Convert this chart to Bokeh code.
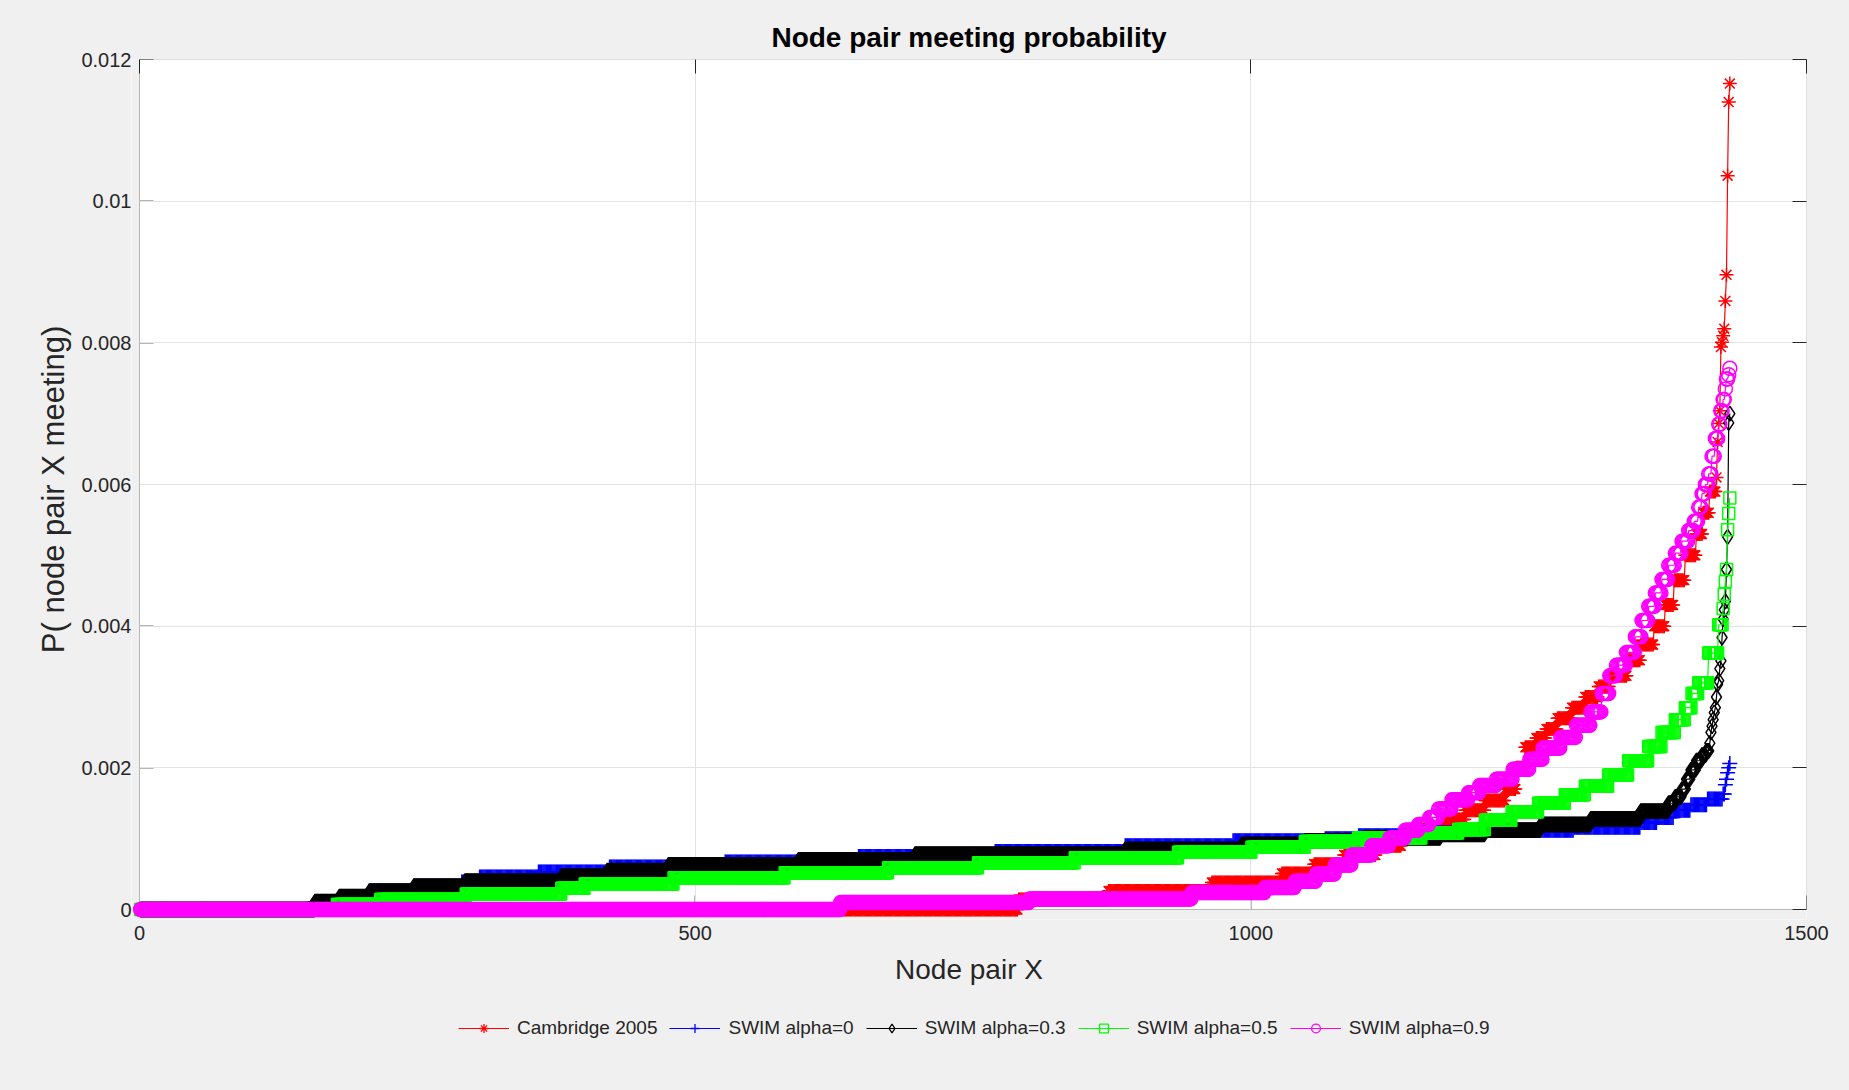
import numpy as np
from bokeh.plotting import figure
from bokeh.layouts import column
from bokeh.models import (Range1d, FixedTicker, LinearAxis, Legend, LegendItem,
                          BoxAnnotation)
from bokeh.embed import file_html
from bokeh.resources import INLINE

# Number of node pairs (54 nodes -> 1431 pairs), sorted by meeting probability
N_PAIRS = 1431

# Each series: probability levels and the index of the last pair at that level
cam_levels = [0, 0.00014, 0.00026, 0.00038, 0.00051, 0.00064, 0.00077, 0.00090,
              0.00102, 0.00115, 0.00127, 0.00140, 0.00154, 0.00170, 0.00200,
              0.00229, 0.00242, 0.00255, 0.00270, 0.00285, 0.00300, 0.00315,
              0.00330, 0.00352, 0.00374, 0.00400, 0.00430, 0.00465, 0.00500,
              0.00530, 0.00560, 0.00590, 0.00610, 0.00660, 0.00686, 0.00704,
              0.00794, 0.00801, 0.00810, 0.00820, 0.00859, 0.00896, 0.01036,
              0.01140, 0.01166]
cam_ends = [790, 871, 964, 1027, 1056, 1083, 1112, 1135, 1155, 1172, 1192, 1210,
            1228, 1238, 1246, 1256, 1265, 1275, 1288, 1300, 1312, 1322, 1338,
            1350, 1362, 1372, 1380, 1390, 1400, 1406, 1412, 1418, 1419, 1420,
            1421, 1422, 1423, 1424, 1425, 1426, 1427, 1428, 1429, 1430, 1431]

a0_levels = [0, 0.00011, 0.00018, 0.00026, 0.00033, 0.00039, 0.00046, 0.00053,
             0.00060, 0.00067, 0.00075, 0.00082, 0.00090, 0.00097, 0.00100,
             0.00104, 0.00108, 0.00112, 0.00116, 0.00123, 0.00130, 0.00140,
             0.00148, 0.00156, 0.00163, 0.00176, 0.00184, 0.00193, 0.00200,
             0.00206]
a0_ends = [157, 179, 206, 246, 289, 305, 358, 422, 526, 646, 769, 886, 983, 1066,
           1096, 1140, 1200, 1290, 1350, 1365, 1380, 1395, 1410, 1424, 1426,
           1427, 1428, 1429, 1430, 1431]

a3_levels = [0, 0.00011, 0.00018, 0.00026, 0.00033, 0.00040, 0.00047, 0.00055,
             0.00063, 0.00070, 0.00078, 0.00085, 0.00092, 0.00097, 0.00101,
             0.00106, 0.00112, 0.00120, 0.00128, 0.00139, 0.00150, 0.00159,
             0.00170, 0.00184, 0.00197, 0.00210, 0.00218, 0.00224, 0.00235,
             0.00250, 0.00259, 0.00268, 0.00278, 0.00285, 0.00300, 0.00318,
             0.00323, 0.00340, 0.00351, 0.00384, 0.00410, 0.00423, 0.00435,
             0.00480, 0.00526, 0.00687, 0.00700]
a3_ends = [157, 179, 206, 246, 292, 379, 420, 475, 592, 697, 886, 991, 1048,
           1100, 1170, 1210, 1260, 1305, 1350, 1375, 1381, 1387, 1391, 1395,
           1400, 1405, 1409, 1412, 1413, 1414, 1415, 1416, 1417, 1418, 1419,
           1420, 1421, 1422, 1423, 1424, 1425, 1426, 1427, 1428, 1429, 1430,
           1431]

a5_levels = [0, 0.00007, 0.00014, 0.00022, 0.00030, 0.00036, 0.00045, 0.00052,
             0.00059, 0.00066, 0.00073, 0.00081, 0.00088, 0.00096, 0.00101,
             0.00108, 0.00113, 0.00126, 0.00138, 0.00150, 0.00162, 0.00174,
             0.00190, 0.00210, 0.00230, 0.00250, 0.00268, 0.00285, 0.00305,
             0.00320, 0.00362, 0.00402, 0.00425, 0.00445, 0.00463, 0.00480,
             0.00536, 0.00559, 0.00581]
a5_ends = [177, 216, 293, 379, 400, 480, 580, 673, 754, 841, 934, 1000, 1048,
           1096, 1153, 1186, 1210, 1234, 1258, 1282, 1300, 1321, 1339, 1357,
           1369, 1381, 1390, 1396, 1402, 1411, 1420, 1424, 1425, 1426, 1427,
           1428, 1429, 1430, 1431]

a9_levels = [0, 0.00010, 0.00015, 0.00024, 0.00031, 0.00040, 0.00050, 0.00063,
             0.00077, 0.00090, 0.00101, 0.00112, 0.00120, 0.00130, 0.00142,
             0.00155, 0.00165, 0.00175, 0.00184, 0.00198, 0.00212, 0.00228,
             0.00243, 0.00260, 0.00279, 0.00305, 0.00330, 0.00345, 0.00363,
             0.00385, 0.00408, 0.00428, 0.00447, 0.00466, 0.00486, 0.00503,
             0.00520, 0.00535, 0.00548, 0.00568, 0.00587, 0.00600, 0.00615,
             0.00640, 0.00665, 0.00685, 0.00704, 0.00720, 0.00735, 0.00749,
             0.00755, 0.00764]
a9_ends = [630, 800, 946, 1012, 1039, 1058, 1075, 1090, 1108, 1124, 1138, 1150,
           1160, 1168, 1180, 1195, 1205, 1220, 1235, 1250, 1262, 1278, 1292,
           1305, 1315, 1322, 1328, 1337, 1345, 1351, 1357, 1363, 1369, 1375,
           1381, 1387, 1393, 1398, 1402, 1405, 1408, 1411, 1414, 1417, 1420,
           1422, 1424, 1426, 1427, 1429, 1430, 1431]

labels = ["Cambridge 2005", "SWIM alpha=0", "SWIM alpha=0.3",
          "SWIM alpha=0.5", "SWIM alpha=0.9"]
colors = ["#ff0000", "#0000ff", "#000000", "#00ff00", "#ff00ff"]
markers = ["asterisk", "cross", "diamond", "square", "circle"]
marker_sizes = [14, 15, 15, 12, 14]

X_MAX, Y_MAX = 1500, 0.012
x_ticks = [0, 500, 1000, 1500]
y_ticks = [0, 0.002, 0.004, 0.006, 0.008, 0.01, 0.012]
y_tick_labels = {0: "0", 0.002: "0.002", 0.004: "0.004", 0.006: "0.006",
                 0.008: "0.008", 0.01: "0.01", 0.012: "0.012"}


def expand(levels, ends):
    counts = np.diff([0] + list(ends))
    return np.repeat(np.asarray(levels, dtype=float), counts)


series = [expand(cam_levels, cam_ends), expand(a0_levels, a0_ends),
          expand(a3_levels, a3_ends), expand(a5_levels, a5_ends),
          expand(a9_levels, a9_ends)]
x = np.arange(1, N_PAIRS + 1)

FONT = "Liberation Sans"
TXT = "#262626"
BG = "#f0f0f0"
BOX = "#4a4a4a"
TICK_PX = 14

# Axes box is 1667 x 850 px; the frame gets a small margin on the left and
# bottom so markers sitting on the axes are not cut in half.
BOX_W, BOX_H = 1667, 850
PAD_L, PAD_B = 8, 10
x_pad = PAD_L * X_MAX / BOX_W
y_pad = PAD_B * Y_MAX / BOX_H

p = figure(frame_width=BOX_W + PAD_L, frame_height=BOX_H + PAD_B,
           output_backend="svg", toolbar_location=None,
           x_range=Range1d(-x_pad, X_MAX), y_range=Range1d(-y_pad, Y_MAX),
           min_border_left=139 - PAD_L, min_border_right=43, min_border_top=59,
           min_border_bottom=95 - PAD_B, x_axis_label="Node pair X",
           y_axis_label="P( node pair X meeting)")
p.border_fill_color = BG
p.background_fill_color = "white"
p.outline_line_color = None

p.title.text = "Node pair meeting probability"
p.title.text_font = FONT
p.title.text_font_size = "28px"
p.title.text_font_style = "bold"
p.title.text_color = "#000000"
p.title.align = "center"
p.title.standoff = 13

xt = FixedTicker(ticks=x_ticks)
yt = FixedTicker(ticks=y_ticks)
p.xaxis.ticker = xt
p.yaxis.ticker = yt
p.yaxis.major_label_overrides = y_tick_labels

for ax in (p.xaxis[0], p.yaxis[0]):
    ax.axis_line_color = None
    ax.major_tick_line_color = None
    ax.major_tick_in = 0
    ax.major_tick_out = 0
    ax.minor_tick_in = 0
    ax.minor_tick_out = 0
    ax.major_label_text_font = FONT
    ax.major_label_text_font_size = "20px"
    ax.major_label_text_color = TXT
    ax.axis_label_text_font = FONT
    ax.axis_label_text_font_style = "normal"
    ax.axis_label_text_color = TXT

p.xaxis.axis_label_text_font_size = "28px"
p.yaxis.axis_label_text_font_size = "31px"
p.xaxis.major_label_standoff = 16 - PAD_B
p.yaxis.major_label_standoff = 0
p.xaxis.axis_label_standoff = 11
p.yaxis.axis_label_standoff = 7

# box ticks on the top and right edges (no labels there)
for side, tk in (("above", xt), ("right", yt)):
    extra = LinearAxis(ticker=tk, axis_line_color=None, major_tick_in=TICK_PX,
                       major_tick_out=0, minor_tick_in=0, minor_tick_out=0,
                       major_tick_line_color=TXT, major_label_text_font_size="1px",
                       major_label_text_color=None, major_label_standoff=0)
    p.add_layout(extra, side)

p.xgrid.ticker = xt
p.ygrid.ticker = yt
p.xgrid.grid_line_color = "#e3e3e3"
p.ygrid.grid_line_color = "#e3e3e3"

# figure-coloured margin outside the axes box, then the box outline
p.add_layout(BoxAnnotation(top=0, fill_color=BG, fill_alpha=1, line_alpha=0,
                           level="underlay"))
p.add_layout(BoxAnnotation(right=0, fill_color=BG, fill_alpha=1, line_alpha=0,
                           level="underlay"))
p.add_layout(BoxAnnotation(left=0, right=X_MAX, bottom=0, top=Y_MAX,
                           fill_alpha=0, line_color=BOX, line_width=1,
                           level="underlay"))

# inward ticks on the bottom and left sides of the box
tick_dy = TICK_PX * Y_MAX / BOX_H
tick_dx = TICK_PX * X_MAX / BOX_W
p.segment(x0=x_ticks, y0=[0] * len(x_ticks), x1=x_ticks,
          y1=[tick_dy] * len(x_ticks), line_color=TXT, line_width=1,
          level="underlay")
p.segment(x0=[0] * len(y_ticks), y0=y_ticks, x1=[tick_dx] * len(y_ticks),
          y1=y_ticks, line_color=TXT, line_width=1, level="underlay")

for ys, col, mk, sz in zip(series, colors, markers, marker_sizes):
    p.line(x, ys, line_color=col, line_width=1.2)
    p.scatter(x, ys, marker=mk, size=sz, line_color=col, fill_color=None,
              line_width=1.5)

# legend strip under the chart (its renderers sit outside the strip's view)
LEG_H = 1090 - (59 + BOX_H + PAD_B + 95 - PAD_B)
q = figure(width=1849, height=LEG_H, output_backend="svg", toolbar_location=None,
           min_border=0, x_axis_location=None, y_axis_location=None,
           x_range=Range1d(0, X_MAX), y_range=Range1d(1, 2))
q.border_fill_color = BG
q.background_fill_color = BG
q.outline_line_color = None
q.xgrid.visible = False
q.ygrid.visible = False

items = []
for ys, lab, col, mk in zip(series, labels, colors, markers):
    ln = q.line(x, ys, line_color=col, line_width=1.2)
    sc = q.scatter(x, ys, marker=mk, size=10, line_color=col, fill_color=None,
                   line_width=1.3)
    items.append(LegendItem(label=lab, renderers=[ln, sc]))

legend = Legend(items=items, orientation="horizontal",
                location=(327, LEG_H - 35),
                border_line_color=None, background_fill_alpha=0,
                label_text_font=FONT, label_text_font_size="19px",
                label_text_color=TXT, glyph_width=51, glyph_height=22,
                label_standoff=8, spacing=12, margin=0, padding=1)
q.add_layout(legend, "center")

page = column(p, q, spacing=0)
page.styles = {"background-color": BG}

open("out.html", "w").write(file_html(page, INLINE))
